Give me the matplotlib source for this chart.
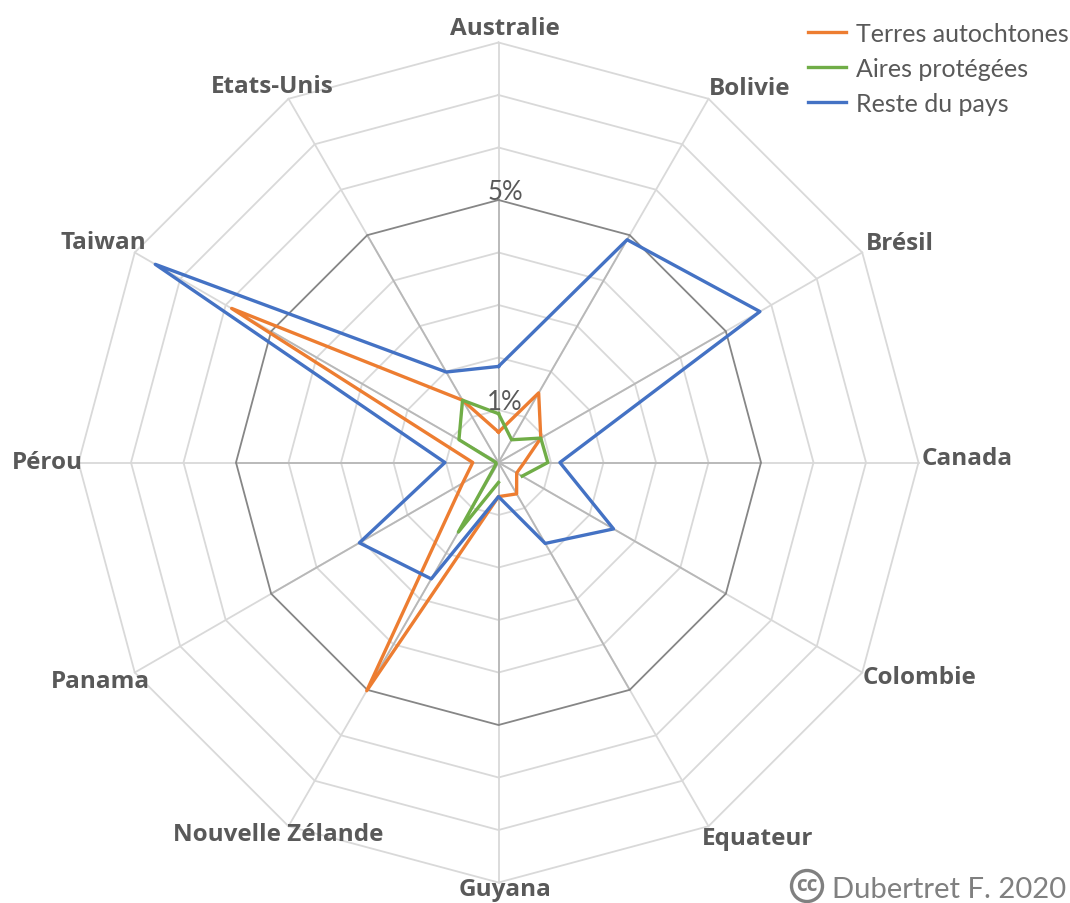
import numpy as np
import matplotlib
matplotlib.use("Agg")
import matplotlib.pyplot as plt
from matplotlib.patches import Circle

categories = ["Australie", "Bolivie", "Brésil", "Canada", "Colombie", "Equateur",
              "Guyana", "Nouvelle Zélande", "Panama", "Pérou", "Taiwan", "Etats-Unis"]

terres = [0.58, 1.53, 0.93, 0.49, 0.40, 0.69, 0.65, 5.02, 0.79, 0.49, 5.87, 1.37]
aires = [0.93, 0.50, 0.93, 0.94, 0.52, np.nan, 0.38, 1.53, 0.05, 0.05, 0.87, 1.37]
reste = [1.83, 4.90, 5.75, 1.17, 2.53, 1.78, 0.65, 2.56, 3.06, 1.02, 7.55, 1.99]

rings = [1, 2, 3, 4, 5, 6, 7, 8]
W, H = 1070, 904
CX, CY, R = 498.5, 463.5, 420

fig = plt.figure(figsize=(W / 100, H / 100), dpi=100)
ax = fig.add_axes([(CX - R) / W, (H - CY - R) / H, 2 * R / W, 2 * R / H], projection="polar")
ax.set_theta_zero_location("N")
ax.set_theta_direction(-1)
ax.set_ylim(0, 8)
ax.axis("off")

theta = np.arange(12) * 2 * np.pi / 12
theta_closed = np.append(theta, theta[0])


def closed(values):
    return np.append(values, values[0])


#grid
for t in theta:
    ax.plot([t, t], [0, 8], color="#d9d9d9", lw=1.3, zorder=1, clip_on=False)
    ax.plot([t, t], [0, 5], color="#b8b8b8", lw=1.3, zorder=1.1)
for r in rings:
    col = "#868686" if r == 5 else "#d9d9d9"
    ax.plot(theta_closed, [r] * 13, color=col, lw=1.3, zorder=1.2 if r == 5 else 1, clip_on=False)

l1, = ax.plot(theta_closed, closed(terres), color="#ed7d31", lw=2.4, zorder=3, label="Terres autochtones")
l2, = ax.plot(theta_closed, closed(aires), color="#70ad47", lw=2.4, zorder=4, label="Aires protégées")
l3, = ax.plot(theta_closed, closed(reste), color="#4472c4", lw=2.4, zorder=5, label="Reste du pays")

#labels, pixel centres
label_x = [505, 750, 900, 967, 919, 758, 505, 278, 100, 47, 103, 272]
label_y = [29, 89, 244, 459, 678, 839, 890, 835, 682, 463, 243, 87]
for name, x, y in zip(categories, label_x, label_y):
    fig.text(x / W, 1 - y / H, name, ha="center", va="center", fontsize=17.5,
             fontweight="bold", family="Open Sans", color="#595959", zorder=6)

fig.text(505 / W, 1 - 192 / H, "5%", ha="center", va="center", fontsize=18.5, family="Lato", color="#595959")
fig.text(505 / W, 1 - 402 / H, "1%", ha="center", va="center", fontsize=18.5, family="Lato", color="#595959")

fig.legend(handles=[l1, l2, l3], loc="upper left", bbox_to_anchor=(808 / W, 1 - 23 / H), frameon=False,
           prop={"family": "Lato", "size": 18}, labelcolor="#595959", handlelength=1.52,
           handletextpad=0.4, labelspacing=0.47, borderpad=0, borderaxespad=0)

#credit
fig.text(832 / W, 1 - 890 / H, "Dubertret F. 2020", ha="left", va="center", fontsize=21.1,
         family="Lato", color="#808080")
fig.add_artist(Circle((807, H - 887), 15.5, transform=None, fc="none", ec="#808080", lw=2.4))
fig.text(807 / W, 1 - 886 / H, "cc", ha="center", va="center", fontsize=15, fontweight="bold",
         family="Open Sans", color="#808080")

fig.savefig("out.png", dpi=100)
